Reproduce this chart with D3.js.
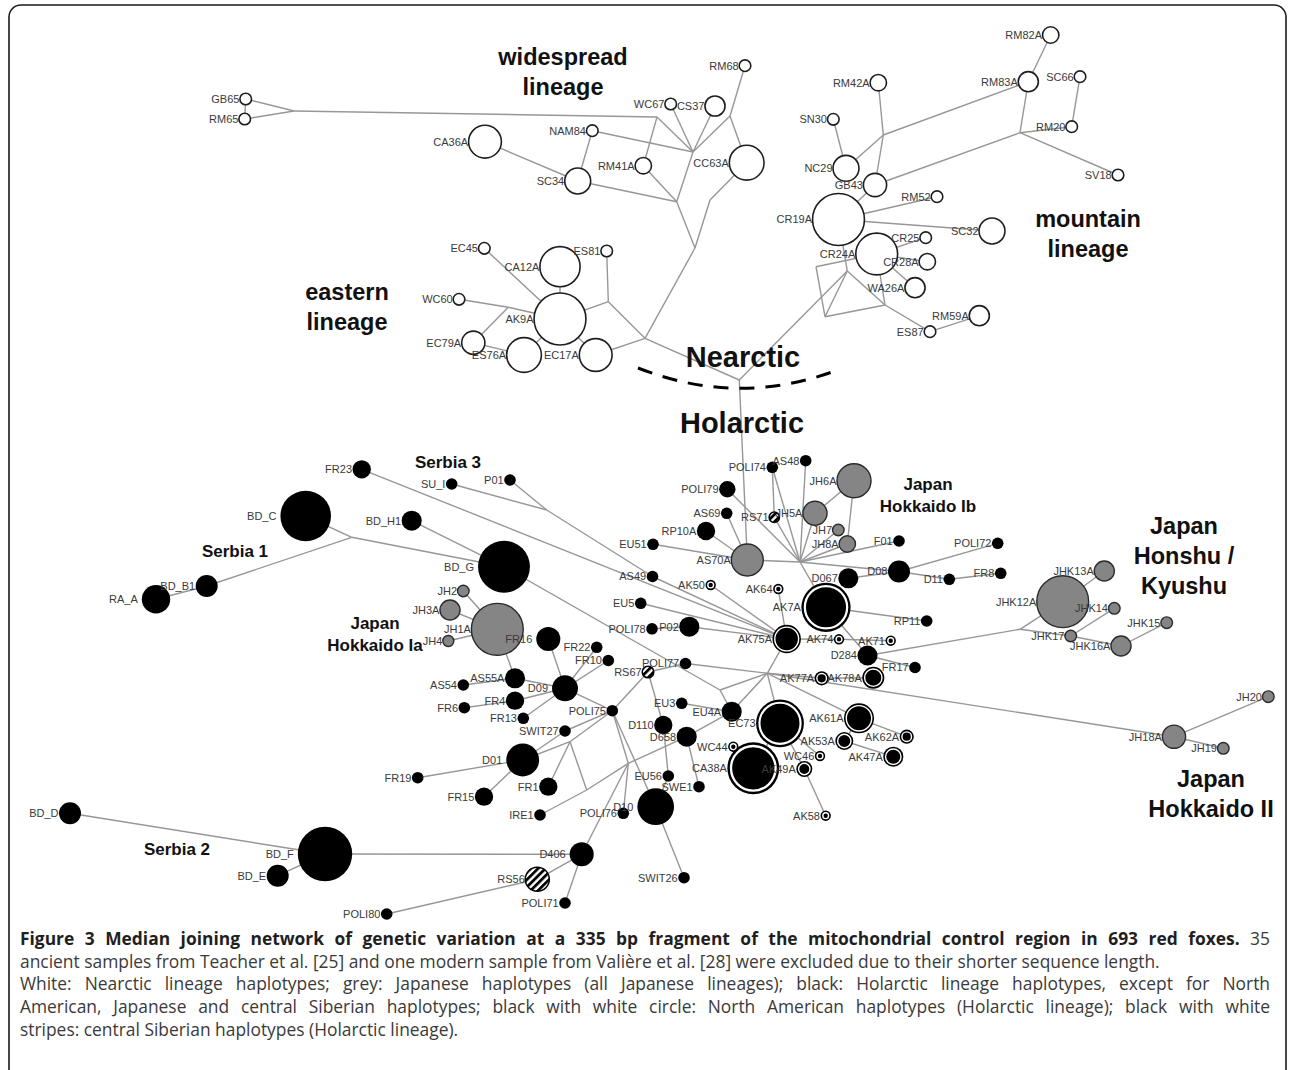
<!DOCTYPE html>
<html><head><meta charset="utf-8">
<script src="https://cdn.jsdelivr.net/npm/d3@7"></script>
<style>
html,body{margin:0;padding:0;background:#fff;}
svg{display:block;}
</style></head>
<body>
<script>
// ---------- DATA ----------
// haplotypes: [label, layoutX, layoutY, frequency, lineageClass]
const nearcticHaplotypes = [
  ["GB65",245.7,99,1,"nearctic"],["RM65",244.7,119,1,"nearctic"],["RM68",745,65.7,1,"nearctic"],
  ["WC67",670.7,104,1,"nearctic"],["CS37",715,106,3,"nearctic"],["NAM84",592.3,130.7,1,"nearctic"],
  ["CA36A",485,141.7,8,"nearctic"],["RM41A",643.3,165.7,2,"nearctic"],["CC63A",746.7,162.7,9,"nearctic"],
  ["SC34",577.7,181,5,"nearctic"],
  ["EC45",484.3,248.3,1,"nearctic"],["CA12A",560,266.7,12,"nearctic"],["ES81",606.7,251,1,"nearctic"],
  ["WC60",459,299.3,1,"nearctic"],["AK9A",560,319,20,"nearctic"],["EC79A",473.3,342.7,4,"nearctic"],
  ["ES76A",524,355,9,"nearctic"],["EC17A",595.7,355,8,"nearctic"],
  ["RM82A",1050.7,35,2,"nearctic"],["RM42A",878.3,82.7,2,"nearctic"],["RM83A",1028.3,81.7,3,"nearctic"],
  ["SC66",1080,76.7,1,"nearctic"],["SN30",833.3,119.3,1,"nearctic"],["RM20",1071.7,126.7,1,"nearctic"],
  ["SV18",1118,175,1,"nearctic"],["NC29",846,168.3,5,"nearctic"],["GB43",875,185,4,"nearctic"],
  ["RM52",937,196.7,1,"nearctic"],["CR19A",838.5,219.5,20,"nearctic"],["SC32",992,231,5,"nearctic"],
  ["CR24A",876.7,254,13,"nearctic"],["CR25",925.7,237.7,1,"nearctic"],["CR28A",927.3,261.7,2,"nearctic"],
  ["WA26A",915,287.7,3,"nearctic"],["RM59A",979.3,315.7,3,"nearctic"],["ES87",930,331.7,1,"nearctic"]
];
const holarcticHaplotypes = [
  ["FR23",361.7,469.3,2.5,"holarctic"],["SU_I",451.7,484,1,"holarctic"],["P01",510,480,1,"holarctic"],
  ["BD_C",305.7,516,19,"holarctic"],["BD_H1",411.7,520.7,3,"holarctic"],["BD_B1",206.7,586,3.6,"holarctic"],
  ["RA_A",156,599.3,6,"holarctic"],["BD_G",504,566.7,20,"holarctic"],
  ["FR16",548.3,639,4.3,"holarctic"],["FR22",596.7,647.3,1,"holarctic"],["FR10",608.3,660.5,1,"holarctic"],
  ["POLI77",685.5,663.5,1,"holarctic"],["AS55A",515,678.3,3,"holarctic"],["AS54",463.3,685,1,"holarctic"],
  ["D09",565,688.3,5,"holarctic"],["FR4",515,700.7,2.5,"holarctic"],["FR6",464.3,707.7,1,"holarctic"],
  ["FR13",523.3,718.3,1,"holarctic"],["POLI75",612.3,710.7,1,"holarctic"],["EU3",681.7,703.3,1,"holarctic"],
  ["SWIT27",565,731,1,"holarctic"],["D110",663.3,725,2.5,"holarctic"],["D658",686.7,736.7,3,"holarctic"],
  ["D01",522.7,760,8,"holarctic"],["FR19",417.7,777.7,1,"holarctic"],["EU56",668.3,776,1,"holarctic"],
  ["SWE1",699,786.7,1,"holarctic"],["FR1",548.3,786.7,2.5,"holarctic"],["FR15",484,796.7,2.5,"holarctic"],
  ["D10",655.7,806.7,10,"holarctic"],["IRE1",540,815,1,"holarctic"],["POLI76",623.3,813.3,1,"holarctic"],
  ["D406",581.7,854.3,4.3,"holarctic"],["SWIT26",684,877.7,1,"holarctic"],["POLI71",565,903,1,"holarctic"],
  ["POLI80",386.7,914,1,"holarctic"],["BD_D",70,813.3,3.6,"holarctic"],["BD_F",325,854,22,"holarctic"],
  ["BD_E",277.7,875.7,3.6,"holarctic"],
  ["POLI74",772.3,467.3,1,"holarctic"],["AS48",805.7,460.7,1,"holarctic"],["POLI79",727.3,489.3,2,"holarctic"],
  ["AS69",726.7,513.3,1,"holarctic"],["RP10A",706,531,2.5,"holarctic"],["EU51",653,544.3,1,"holarctic"],
  ["F01",899,541,1,"holarctic"],["AS49",652.5,576.5,1,"holarctic"],["D067",848.3,578.3,3,"holarctic"],
  ["D08",899,571.5,3.6,"holarctic"],["POLI72",997.7,543.3,1,"holarctic"],["D11",949.3,579.3,1,"holarctic"],
  ["FR8",1000.7,573.3,1,"holarctic"],["EU5",640.7,603.3,1,"holarctic"],["P02",689.3,626.7,3,"holarctic"],
  ["POLI78",652,628.8,1,"holarctic"],["RP11",926.7,621,1,"holarctic"],["D284",867.5,655.5,3,"holarctic"],
  ["FR17",915,667.5,1,"holarctic"],["EU4A",731.7,711.7,3,"holarctic"]
];
const northAmericanHaplotypes = [
  ["AK50",710.7,585,0.8,"namerica"],["AK64",778.3,589,0.8,"namerica"],["AK7A",826,607.3,18,"namerica"],
  ["AK75A",786.7,639,6,"namerica"],["AK74",839,639.3,0.8,"namerica"],["AK71",890.7,640.7,0.8,"namerica"],
  ["AK77A",821.7,678.3,1.5,"namerica"],["AK78A",873.3,677.7,3.6,"namerica"],["EC73",780,723.3,17,"namerica"],
  ["AK61A",859,718.3,6.7,"namerica"],["AK53A",844.3,741,2.4,"namerica"],["AK62A",906.7,736.7,1.5,"namerica"],
  ["AK47A",893.3,756.7,3,"namerica"],["WC44",733.3,746.7,0.8,"namerica"],["WC46",820,756,0.8,"namerica"],
  ["CA38A",753.3,768.3,20,"namerica"],["AK49A",804.3,769,1.9,"namerica"],["AK58",825.7,815.7,0.8,"namerica"]
];
const siberianHaplotypes = [
  ["RS71",774.3,517.3,0.8,"siberia"],["RS67",648,672,1,"siberia"],["RS56",537.3,879.3,4.3,"siberia"]
];
const japaneseHaplotypes = [
  ["JH2",463.3,591,1,"japan"],["JH3A",450,610,3,"japan"],["JH1A",497.3,629.3,20,"japan"],["JH4",448.3,641,0.9,"japan"],
  ["JH6A",854,480.7,8.6,"japan"],["JH5A",815,513.3,4.3,"japan"],["JH7",838.3,530,1,"japan"],["JH8A",847.3,544,2,"japan"],
  ["AS70A",747.3,560,7.6,"japan"],
  ["JHK12A",1062.7,601.7,20,"japan"],["JHK13A",1104.3,571,3,"japan"],["JHK14",1114.3,608.3,1,"japan"],
  ["JHK15",1166.7,622.7,1,"japan"],["JHK17",1070.7,636,1,"japan"],["JHK16A",1121,646,3,"japan"],
  ["JH20",1268.3,696.7,1,"japan"],["JH18A",1174,736.7,4,"japan"],["JH19",1223.3,748.3,1,"japan"]
];
// median vectors (unsampled junctions): [id, layoutX, layoutY]
const medianVectors = [
  ["mA",294,111],["mB",657,117],["mC",693,152],["mD",730,116],["mE",676.7,201.7],["mF",710,200],
  ["mG",695,248],["mH",645,338.3],["mI",608.3,301.7],["mJ",508.3,307.3],["mN",739.3,380],
  ["mK",883.3,135],["mL",1020,132.7],["mP1",816,266.7],["mP2",847.3,271],["mP3",825,316.7],["mP4",885,305],
  ["mS1",351.7,537.3],["mS2",546.7,510],["mH1",800,562],["mH2",767.3,673.3],["mJJ",1020,629.3],
  ["mX1",570,741.7],["mX2",586.7,790],["mX3",628.3,763.3],["mQ",720,690]
];
const links = [
  ["GB65","RM65"],["GB65","mA"],["RM65","mA"],["mA","mB"],["mB","RM41A"],["mB","mC"],["mC","NAM84"],
  ["mC","WC67"],["mC","CS37"],["mC","mD"],["mD","RM68"],["mD","CC63A"],["mC","mE"],["RM41A","mE"],
  ["SC34","mE"],["NAM84","SC34"],["CA36A","SC34"],["CC63A","mF"],["mF","mG"],["mE","mG"],["mG","mH"],
  ["mH","EC17A"],["mH","mI"],["mH","mN"],["mI","ES81"],["mI","AK9A"],["AK9A","CA12A"],["AK9A","EC45"],
  ["AK9A","ES76A"],["AK9A","EC17A"],["AK9A","mJ"],["mJ","WC60"],["mJ","EC79A"],["EC79A","ES76A"],
  ["RM82A","RM83A"],["mK","RM42A"],["mK","GB43"],["mK","NC29"],["mK","RM83A"],["RM83A","mL"],
  ["mL","RM20"],["mL","SV18"],["mL","GB43"],["SC66","RM20"],["SN30","NC29"],["GB43","CR19A"],
  ["CR19A","RM52"],["CR19A","SC32"],["CR24A","CR25"],["CR24A","CR28A"],["CR24A","WA26A"],
  ["mP1","CR24A"],["mP1","mP3"],["mP2","CR19A"],["mP2","mP3"],["mP2","mP4"],["mP3","mP4"],
  ["mP4","CR24A"],["mP4","ES87"],["ES87","RM59A"],["mN","mP2"],
  ["mN","AS70A"],["AS70A","mH1"],["mH1","POLI79"],["mH1","RS71"],["mH1","POLI74"],["POLI74","RS71"],
  ["mH1","AS48"],["mH1","JH5A"],["JH6A","JH5A"],["JH6A","JH8A"],["mH1","JH7"],["mH1","JH8A"],
  ["mH1","F01"],["mH1","D08"],["D067","D08"],["D08","POLI72"],["D08","D11"],["D11","FR8"],["mH1","AK7A"],
  ["AS69","AS70A"],["RP10A","AS70A"],["EU51","AS70A"],["AK7A","RP11"],
  ["FR23","AK75A"],["mS2","AS49"],["SU_I","mS2"],["P01","mS2"],["AS49","AK75A"],["EU5","AK75A"],
  ["POLI78","P02"],["P02","AK75A"],["AK50","AK75A"],["AK64","AK75A"],["AK75A","AK74"],["AK74","AK71"],
  ["AK75A","mH2"],["mH2","AK77A"],["AK77A","AK78A"],["mH2","EC73"],["mH2","AK61A"],["AK61A","AK62A"],
  ["AK61A","AK53A"],["AK53A","AK47A"],["EC73","WC46"],["EC73","AK49A"],["AK49A","AK58"],["EC73","CA38A"],
  ["CA38A","WC44"],["mH2","JH18A"],["D284","mJJ"],["mJJ","JHK12A"],["mJJ","JHK17"],["JHK12A","JHK13A"],
  ["JHK17","JHK14"],["JHK17","JHK16A"],["JHK16A","JHK15"],["JH18A","JH20"],["JH18A","JH19"],
  ["D284","FR17"],["AK7A","D284"],
  ["BD_C","mS1"],["BD_B1","mS1"],["BD_B1","RA_A"],["mS1","BD_G"],["BD_H1","BD_G"],["BD_G","mQ"],
  ["mQ","mH2"],["mQ","EU4A"],["JH1A","JH2"],["JH1A","JH3A"],["JH1A","JH4"],["JH1A","AS55A"],
  ["FR16","D09"],["AS55A","D09"],["AS54","AS55A"],["FR4","D09"],["FR6","FR4"],["FR13","D09"],
  ["D09","FR22"],["D09","FR10"],["D09","POLI75"],["POLI75","SWIT27"],["SWIT27","D01"],["D01","mX1"],
  ["mX1","POLI75"],["mX1","FR1"],["mX1","mX2"],["IRE1","mX2"],["mX2","mX3"],["mX3","POLI75"],
  ["mX3","D406"],["mX3","POLI76"],["mX3","D658"],["POLI75","D10"],["D01","FR19"],["D01","FR15"],
  ["POLI75","RS67"],["RS67","POLI77"],["RS67","D110"],["D110","EU56"],["D658","SWE1"],["EU3","EU4A"],
  ["D658","EU4A"],["D10","SWIT26"],["D10","EU56"],["D406","POLI71"],["D406","RS56"],["RS56","POLI80"],
  ["D406","BD_F"],["BD_D","BD_F"],["BD_E","BD_F"],["POLI77","mH2"],["EU4A","mH2"]
];
// group annotations: [lines, layoutX, layoutBaselineY of first line, size class]
const groupLabels = [
  [["widespread","lineage"],563,65,"big"],
  [["eastern","lineage"],347,300,"big"],
  [["mountain","lineage"],1088,227,"big"],
  [["Nearctic"],743,367,"huge"],
  [["Holarctic"],742,433,"huge"],
  [["Serbia 3"],448,468,"small"],
  [["Serbia 1"],235,557,"small"],
  [["Serbia 2"],177,855,"small"],
  [["Japan","Hokkaido Ia"],375,629,"small"],
  [["Japan","Hokkaido Ib"],928,490,"small"],
  [["Japan","Honshu /","Kyushu"],1184,534,"big"],
  [["Japan","Hokkaido II"],1211,787,"big"]
];
const captionBold = "Figure 3 Median joining network of genetic variation at a 335 bp fragment of the mitochondrial control region in 693 red foxes.";
// caption lines after the bold title: [text, justified]
const captionLines = [
  [" 35", true],
  ["ancient samples from Teacher et al. [25] and one modern sample from Valière et al. [28] were excluded due to their shorter sequence length.", false],
  ["White: Nearctic lineage haplotypes; grey: Japanese haplotypes (all Japanese lineages); black: Holarctic lineage haplotypes, except for North", true],
  ["American, Japanese and central Siberian haplotypes; black with white circle: North American haplotypes (Holarctic lineage); black with white", true],
  ["stripes: central Siberian haplotypes (Holarctic lineage).", false]
];

// ---------- DRAW ----------
const W = 1290, H = 1070;
const svg = d3.select("body").append("svg").attr("width", W).attr("height", H);
const x = d3.scaleLinear().domain([0, 1290]).range([0, W]);
const y = d3.scaleLinear().domain([0, 1070]).range([0, H]);
const rScale = d3.scaleSqrt().domain([0, 1]).range([0, 5.8]);

const defs = svg.append("defs");
const pat = defs.append("pattern").attr("id","stripes").attr("patternUnits","userSpaceOnUse")
  .attr("width",5.2).attr("height",5.2).attr("patternTransform","rotate(45)");
pat.append("rect").attr("width",5.2).attr("height",5.2).attr("fill","#fff");
pat.append("rect").attr("width",2.8).attr("height",5.2).attr("fill","#000");

// frame
svg.append("rect").attr("x",9).attr("y",5).attr("width",1277).attr("height",1100).attr("rx",12)
  .attr("fill","none").attr("stroke","#1a1a1a").attr("stroke-width",1.6);

const nodes = [].concat(nearcticHaplotypes, holarcticHaplotypes, northAmericanHaplotypes, siberianHaplotypes, japaneseHaplotypes)
  .map(d => ({id:d[0], x:d[1], y:d[2], f:d[3], cls:d[4]}));
const pos = new Map();
nodes.forEach(n => pos.set(n.id, n));
medianVectors.forEach(m => pos.set(m[0], {id:m[0], x:m[1], y:m[2], f:0}));

// links
svg.append("g").selectAll("line").data(links).join("line")
  .attr("x1", d => x(pos.get(d[0]).x)).attr("y1", d => y(pos.get(d[0]).y))
  .attr("x2", d => x(pos.get(d[1]).x)).attr("y2", d => y(pos.get(d[1]).y))
  .attr("stroke","#979797").attr("stroke-width",1.4);

// dashed boundary Nearctic / Holarctic
const arc = d3.path();
arc.moveTo(x(638), y(368)); arc.quadraticCurveTo(x(740), y(408), x(840), y(369));
svg.append("path").attr("d", arc.toString()).attr("fill","none").attr("stroke","#000")
  .attr("stroke-width",3).attr("stroke-dasharray","15,11");

// nodes
const gN = svg.append("g");
nodes.forEach(n => {
  const r = rScale(n.f), cx = x(n.x), cy = y(n.y);
  if (n.cls === "nearctic") {
    gN.append("circle").attr("cx",cx).attr("cy",cy).attr("r",r).attr("fill","#fff").attr("stroke","#1e1e1e").attr("stroke-width",1.6);
  } else if (n.cls === "japan") {
    gN.append("circle").attr("cx",cx).attr("cy",cy).attr("r",r).attr("fill","#858585").attr("stroke","#2a2a2a").attr("stroke-width",1.4);
  } else if (n.cls === "holarctic") {
    gN.append("circle").attr("cx",cx).attr("cy",cy).attr("r",r).attr("fill","#000");
  } else if (n.cls === "namerica") {
    gN.append("circle").attr("cx",cx).attr("cy",cy).attr("r",r).attr("fill","#000");
    const inset = Math.max(2.3, r*0.14);
    gN.append("circle").attr("cx",cx).attr("cy",cy).attr("r",r-inset).attr("fill","none")
      .attr("stroke","#fff").attr("stroke-width",Math.max(1.4, r*0.09));
  } else if (n.cls === "siberia") {
    gN.append("circle").attr("cx",cx).attr("cy",cy).attr("r",r).attr("fill","url(#stripes)").attr("stroke","#000").attr("stroke-width",1.5);
  }
});

// node labels
svg.append("g").selectAll("text").data(nodes).join("text")
  .attr("x", d => x(d.x) - rScale(d.f) - (d.cls==="holarctic" && d.f>4 ? 4 : 0.5))
  .attr("y", d => y(d.y)).attr("dy","0.36em").attr("text-anchor","end")
  .attr("font-family","'Liberation Sans', Arial, sans-serif").attr("font-size",11)
  .attr("fill","#3a3a3a").text(d => d.id);

// group labels
const sizes = {small:17, big:23.5, huge:29};
const lh = {small:22, big:30, huge:30};
groupLabels.forEach(g => {
  const t = svg.append("text").attr("text-anchor","middle")
    .attr("font-family","'Liberation Sans', Arial, sans-serif").attr("font-weight","bold")
    .attr("font-size",sizes[g[3]]).attr("fill","#111");
  g[0].forEach((line,i) => t.append("tspan").attr("x", x(g[1])).attr("y", y(g[2]) + i*lh[g[3]]).text(line));
});

// caption (justified lines)
const capLeft = 20, capRight = 1270, capTop = 945, capLead = 22.7;
const capG = svg.append("g").attr("font-family","'Open Sans', sans-serif").attr("font-size",17.4).attr("fill","#3a3a3a");
function justify(textSel, nSpaces) {
  const len = textSel.node().getComputedTextLength();
  const extra = (capRight - capLeft) - len;
  if (nSpaces > 0 && extra > 0) textSel.attr("word-spacing", extra / nSpaces);
}
const t1 = capG.append("text").attr("x",capLeft).attr("y",capTop);
t1.append("tspan").attr("font-weight","bold").attr("fill","#1f1f1f").text(captionBold);
t1.append("tspan").text(captionLines[0][0]);
justify(t1, (captionBold + captionLines[0][0]).split(" ").length - 1);
captionLines.slice(1).forEach((c,i) => {
  const t = capG.append("text").attr("x",capLeft).attr("y",capTop + (i+1)*capLead).text(c[0]);
  if (c[1]) justify(t, c[0].split(" ").length - 1);
});
</script>
</body></html>
